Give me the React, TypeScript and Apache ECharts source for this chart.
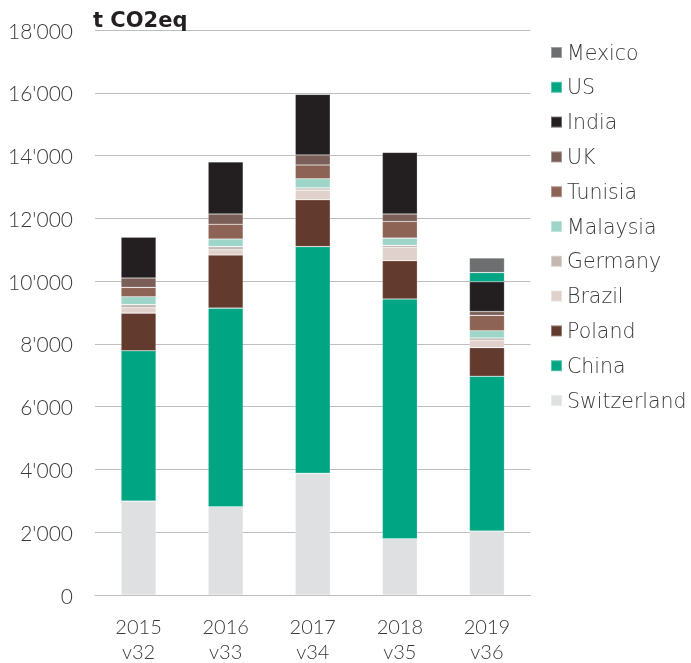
import React, { useEffect, useRef } from "react";
import * as echarts from "echarts";

const categories = ["2015\nv32", "2016\nv33", "2017\nv34", "2018\nv35", "2019\nv36"];
const switzerland = [2990, 2810, 3880, 1790, 2040];
const china = [4790, 6330, 7220, 7640, 4930];
const poland = [1200, 1690, 1490, 1220, 910];
const brazil = [170, 170, 310, 420, 230];
const germany = [100, 100, 70, 70, 80];
const malaysia = [250, 240, 290, 230, 230];
const tunisia = [300, 470, 440, 530, 490];
const uk = [300, 330, 320, 240, 120];
const india = [1300, 1660, 1930, 1960, 950];
const us = [null, null, null, null, 290];
const mexico = [null, null, null, null, 470];
const yTicks = [0, 2000, 4000, 6000, 8000, 10000, 12000, 14000, 16000, 18000];

const seriesDefs = [
  { name: "Switzerland", data: switzerland, color: "#dfe0e2" },
  { name: "China", data: china, color: "#00a583" },
  { name: "Poland", data: poland, color: "#633a2e" },
  { name: "Brazil", data: brazil, color: "#e0d1cc" },
  { name: "Germany", data: germany, color: "#c4b8b2" },
  { name: "Malaysia", data: malaysia, color: "#9dd6c8" },
  { name: "Tunisia", data: tunisia, color: "#8c6355" },
  { name: "UK", data: uk, color: "#7a5f58" },
  { name: "India", data: india, color: "#231f20" },
  { name: "US", data: us, color: "#00a583" },
  { name: "Mexico", data: mexico, color: "#6d6e70" },
];

const legendOrder = seriesDefs.map((s) => s.name).reverse();
const FONT = "Lato, 'Open Sans', sans-serif";

export default function App() {
  const ref = useRef<HTMLDivElement>(null);
  useEffect(() => {
    if (!ref.current) return;
    const chart = echarts.init(ref.current, null, { renderer: "svg" });
    chart.setOption({
      animation: false,
      textStyle: { fontFamily: FONT },
      grid: { left: 95, right: 160.5, top: 30, bottom: 65.7, containLabel: false },
      title: {
        text: "t CO2eq",
        left: 93,
        top: 9,
        padding: 0,
        textStyle: { fontFamily: "'DejaVu Sans', sans-serif", fontSize: 21, fontWeight: "bold", color: "#231f20" },
      },
      legend: {
        orient: "vertical",
        left: 550,
        top: 42,
        padding: 0,
        itemWidth: 11,
        itemHeight: 11,
        itemGap: 13.8,
        icon: "rect",
        data: legendOrder,
        textStyle: {
          fontFamily: "'DejaVu Sans', sans-serif",
          fontSize: 20.5,
          lineHeight: 20,
          color: "#3a3a3a",
          fontWeight: 200,
        },
      },
      xAxis: {
        type: "category",
        data: categories,
        axisLine: { show: true, lineStyle: { color: "#bdbdbd", width: 1 } },
        axisTick: { show: false },
        axisLabel: {
          margin: 18,
          fontSize: 20,
          lineHeight: 25,
          color: "#3a3a3a",
          fontFamily: FONT,
          fontWeight: 300,
        },
      },
      yAxis: {
        type: "value",
        min: 0,
        max: 18000,
        interval: 2000,
        axisLine: { show: false },
        axisTick: { show: false },
        splitLine: { show: true, lineStyle: { color: "#bdbdbd", width: 1 } },
        axisLabel: {
          margin: 22,
          fontSize: 21,
          color: "#3a3a3a",
          fontFamily: FONT,
          fontWeight: 300,
          formatter: (v: number) =>
            yTicks.includes(v) ? String(v).replace(/\B(?=(\d{3})+(?!\d))/g, "'") : "",
        },
      },
      series: seriesDefs.map((s) => ({
        name: s.name,
        type: "bar",
        stack: "total",
        barWidth: 35,
        data: s.data,
        itemStyle: { color: s.color, borderColor: "rgba(255,255,255,0.35)", borderWidth: 0.6 },
        emphasis: { disabled: true },
      })),
    });
    return () => chart.dispose();
  }, []);
  return (
    <div
      ref={ref}
      style={{ position: "fixed", left: 0, top: 0, width: 691, height: 663 }}
    />
  );
}
